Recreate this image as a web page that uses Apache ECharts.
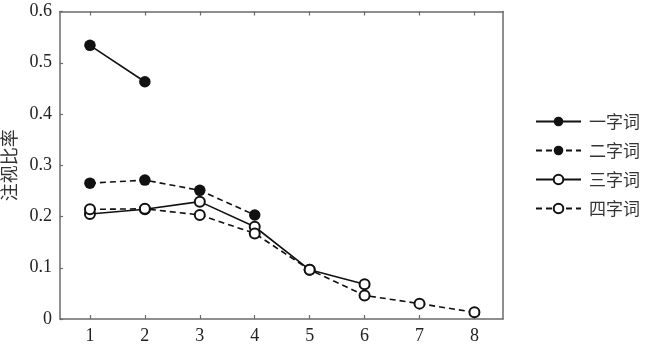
<!DOCTYPE html>
<html>
<head>
<meta charset="utf-8">
<script src="https://cdn.jsdelivr.net/npm/echarts@6/dist/echarts.min.js"></script>
<style>html,body{margin:0;padding:0;background:#fff;}#c{width:647px;height:348px;}</style>
</head>
<body>
<div id="c"></div>
<script>
var positions = [1, 2, 3, 4, 5, 6, 7, 8];
var seriesNames = ['一字词', '二字词', '三字词', '四字词'];
var yi = [0.534, 0.463];
var er = [0.265, 0.271, 0.251, 0.203];
var san = [0.205, 0.214, 0.229, 0.180, 0.096, 0.068];
var si = [0.214, 0.215, 0.203, 0.167, 0.096, 0.046, 0.030, 0.013];
var yTicks = [0, 0.1, 0.2, 0.3, 0.4, 0.5, 0.6];
var yName = '注视比率';

function pairs(vals) {
  return vals.map(function (v, i) { return [positions[i], v]; });
}
var numFont = '"Liberation Serif", "Times New Roman", serif';
var cjkFont = '"Noto Sans CJK SC", sans-serif';
var axisCol = '#6a6a6a';
var lineCol = '#111';

function mk(name, vals, filled, dashed) {
  return {
    name: name, type: 'line', data: pairs(vals),
    symbol: filled ? 'circle' : 'emptyCircle', symbolSize: filled ? 11.5 : 10,
    itemStyle: { color: lineCol, borderWidth: 1.6 },
    lineStyle: { color: lineCol, width: 1.6, type: dashed ? [6, 4] : 'solid' },
    emphasis: { disabled: true }, animation: false
  };
}

var chart = echarts.init(document.getElementById('c'));
chart.setOption({
  backgroundColor: '#fff',
  animation: false,
  grid: { left: 60, top: 11.5, right: 144, bottom: 29, containLabel: false, outerBoundsMode: 'none' },
  legend: {
    orient: 'vertical', left: 535, top: 113, itemGap: 12, padding: 0,
    itemWidth: 45, itemHeight: 12,
    textStyle: { fontFamily: cjkFont, fontSize: 17, color: '#333', padding: [0, 0, 0, 3] },
    data: seriesNames
  },
  xAxis: [{
    type: 'value', min: 0.455, max: 8.52, position: 'bottom',
    splitLine: { show: false },
    axisLine: { show: true, onZero: false, lineStyle: { color: axisCol, width: 1.5 } },
    axisTick: { show: true, inside: true, length: 4, customValues: positions, lineStyle: { color: axisCol, width: 1.2 } },
    axisLabel: { customValues: positions, fontFamily: numFont, fontSize: 18, color: '#222', margin: 8 }
  }, {
    type: 'value', min: 0.455, max: 8.52, position: 'top',
    splitLine: { show: false },
    axisLine: { show: true, onZero: false, lineStyle: { color: axisCol, width: 1.5 } },
    axisTick: { show: true, inside: true, length: 4, customValues: positions, lineStyle: { color: axisCol, width: 1.2 } },
    axisLabel: { show: false }
  }],
  yAxis: [{
    type: 'value', min: 0, max: 0.6, interval: 0.1, position: 'left',
    name: yName, nameLocation: 'middle', nameGap: 39, nameRotate: 90,
    nameTextStyle: { fontFamily: cjkFont, fontSize: 18, color: '#333' },
    splitLine: { show: false },
    axisLine: { show: true, onZero: false, lineStyle: { color: axisCol, width: 1.5 } },
    axisTick: { show: true, inside: true, length: 3, lineStyle: { color: axisCol, width: 1.2 } },
    axisLabel: { fontFamily: numFont, fontSize: 18, color: '#222', margin: 8,
      formatter: function (v) { return yTicks.indexOf(+v.toFixed(1)) >= 0 ? String(+v.toFixed(1)) : ''; } }
  }, {
    type: 'value', min: 0, max: 0.6, position: 'right',
    splitLine: { show: false },
    axisLine: { show: true, onZero: false, lineStyle: { color: axisCol, width: 1.5 } },
    axisTick: { show: false }, axisLabel: { show: false }
  }],
  series: [
    mk(seriesNames[0], yi, true, false),
    mk(seriesNames[1], er, true, true),
    mk(seriesNames[2], san, false, false),
    mk(seriesNames[3], si, false, true)
  ]
});
</script>
</body>
</html>
